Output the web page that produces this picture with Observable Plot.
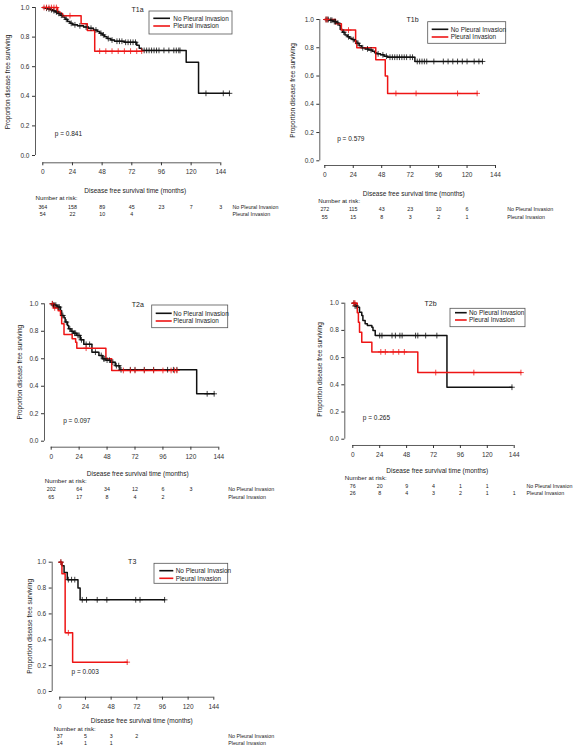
<!DOCTYPE html>
<html><head><meta charset="utf-8">
<script src="https://cdn.jsdelivr.net/npm/d3@7"></script>
<script src="https://cdn.jsdelivr.net/npm/@observablehq/plot@0.6"></script>
<style>
body{margin:0;background:#fff;}
#page{position:relative;width:573px;height:750px;overflow:hidden;background:#fff;}
.panel{position:absolute;}
.panel svg{overflow:visible;background:transparent;}
</style></head><body><div id="page"></div>
<script>
// ---------- shared labels / ticks ----------
const monthTicks = [0, 24, 48, 72, 96, 120, 144];
const survTicks = [0, 0.2, 0.4, 0.6, 0.8, 1.0];
const groups = ["No Pleural Invasion", "Pleural Invasion"];
const riskTimes = [0, 24, 48, 72, 96, 120, 144];
const xTitle = "Disease free survival time (months)";
const yTitle = "Proportion disease free surviving";
const riskTitle = "Number at risk:";

// ---------- T1a ----------
const t1aNoTime = [0,2,4,6,8,10,12,14,16,18,20,22,24,28,33,37,41,44,46,48,50,52,55,58,66,76,78,80,116,126,151];
const t1aNoSurv = [1,0.995,0.99,0.985,0.978,0.97,0.96,0.948,0.935,0.92,0.905,0.893,0.883,0.876,0.868,0.86,0.848,0.838,0.826,0.815,0.802,0.79,0.78,0.772,0.765,0.745,0.725,0.71,0.63,0.42,0.42];
const t1aNoCens = [3,5,7,9,11,13,15,19,23,26,30,35,39,43,47,49,53,56,60,62,64,67,69,71,73,75,82,84,86,88,90,92,94,98,102,106,108,110,111,132,146,151];
const t1aPiTime = [0,12,14,16,31,36,42,80];
const t1aPiSurv = [1,0.97,0.96,0.945,0.89,0.845,0.705,0.705];
const t1aPiCens = [1,3,5,7,9,11,22,46,51,56,61,66,71,76,80];
const t1aRiskNo = [364,158,89,45,23,7,3];
const t1aRiskPi = [54,22,10,4];
const t1aP = "p = 0.841";

// ---------- T1b ----------
const t1bNoTime = [0,4,7,10,12,13,15,17,19,21,23,25,27,29,31,34,37,40,42,44,47,50,53,76,133];
const t1bNoSurv = [1,0.995,0.985,0.975,0.96,0.93,0.91,0.89,0.878,0.868,0.858,0.847,0.832,0.815,0.8,0.792,0.785,0.775,0.765,0.757,0.75,0.74,0.733,0.703,0.703];
const t1bNoCens = [1,2,3,5,6,8,9,11,16,20,24,28,32,36,39,45,49,52,55,57,59,61,63,65,67,69,72,74,78,80,82,84,86,92,100,104,108,112,116,120,126,130,133];
const t1bPiTime = [0,9,14,26,27,43,51,53,128.5];
const t1bPiSurv = [1,0.97,0.925,0.83,0.8,0.715,0.6,0.477,0.477];
const t1bPiCens = [1,2,20,60,77,112,128.5];
const t1bRiskNo = [272,115,43,23,10,6];
const t1bRiskPi = [55,15,8,3,2,1];
const t1bP = "p = 0.579";

// ---------- T2a ----------
const t2aNoTime = [0,2,5,8,9,11,12,14,15,17,19,22,25,28,35,41,44,47,51,55,59,125,140];
const t2aNoSurv = [1,0.99,0.976,0.95,0.915,0.898,0.867,0.842,0.818,0.8,0.786,0.77,0.738,0.705,0.648,0.624,0.6,0.59,0.575,0.55,0.52,0.345,0.345];
const t2aNoCens = [1,2,3,4,6,7,10,13,16,18,20,21,23,24,26,30,33,38,43,45,46,48,50,53,56,58,60,68,72,80,88,100,105,108,134,140];
const t2aPiTime = [0,2,6,8,9,11,18,21,22,47,52,108];
const t2aPiSurv = [1,0.97,0.95,0.915,0.855,0.777,0.745,0.72,0.677,0.6,0.515,0.515];
const t2aPiCens = [1,3,30,62,68,72,80,88,96,103,106,108];
const t2aRiskNo = [202,64,34,12,6,3];
const t2aRiskPi = [65,17,8,4,2];
const t2aP = "p = 0.097";

// ---------- T2b ----------
const t2bNoTime = [0,2,4,6,8,9,11,13,17,18,20,84,142];
const t2bNoSurv = [1,0.98,0.97,0.934,0.91,0.873,0.848,0.836,0.824,0.8,0.762,0.382,0.382];
const t2bNoCens = [1,2,3,24,26,35,38,42,44,56,58,65,75,142];
const t2bPiTime = [0,4,5,6,8,17,58,150];
const t2bPiSurv = [1,0.93,0.86,0.787,0.713,0.642,0.49,0.49];
const t2bPiCens = [1,2,25,29,36,41,46,74,108,150];
const t2bRiskNo = [76,20,9,4,1,1];
const t2bRiskPi = [26,8,4,3,2,1,1];
const t2bP = "p = 0.265";

// ---------- T3 ----------
const t3NoTime = [0,2,4,7,17,19,98];
const t3NoSurv = [1,0.973,0.92,0.865,0.8,0.709,0.709];
const t3NoCens = [1,8,11,14,21,25,35,44,71,75,98];
const t3PiTime = [0,2,5,12,63];
const t3PiSurv = [1,0.91,0.454,0.227,0.227];
const t3PiCens = [1,8,63];
const t3RiskNo = [37,5,3,2];
const t3RiskPi = [14,1,1];
const t3P = "p = 0.003";

// ---------- panel layout (pixels on the page) ----------
const panels = [
  {name:"T1a", p:t1aP, no:[t1aNoTime,t1aNoSurv,t1aNoCens], pi:[t1aPiTime,t1aPiSurv,t1aPiCens], risk:[t1aRiskNo,t1aRiskPi],
   L:0,T:0,W:285,H:228, yAxisX:35,x0:42.3,x144:220.3,y1:7,y0:155,xAxisY:162.3,
   title:[137,9], leg:[149,11,232,34], legLine:[153.3,170], legText:173.3, legRows:[18.3,26],
   pPos:[54.3,133], yLab:[7,81.5], xLab:[134.7,190], nar:[35,198], rows:[207,214], labX:232},
  {name:"T1b", p:t1bP, no:[t1bNoTime,t1bNoSurv,t1bNoCens], pi:[t1bPiTime,t1bPiSurv,t1bPiCens], risk:[t1bRiskNo,t1bRiskPi],
   L:285,T:0,W:288,H:228, yAxisX:319.3,x0:324.3,x144:495,y1:19,y0:160.3,xAxisY:165,
   title:[412,19], leg:[427.7,21.7,505.7,43.3], legLine:[431.7,448.3], legText:450.7, legRows:[29.3,37],
   pPos:[336.7,138], yLab:[292,90], xLab:[413.3,193], nar:[317.7,201], rows:[209,217], labX:506.7},
  {name:"T2a", p:t2aP, no:[t2aNoTime,t2aNoSurv,t2aNoCens], pi:[t2aPiTime,t2aPiSurv,t2aPiCens], risk:[t2aRiskNo,t2aRiskPi],
   L:0,T:290,W:285,H:215, yAxisX:44,x0:50.7,x144:218.3,y1:303.3,y0:440.7,xAxisY:446.7,
   title:[137.3,304], leg:[151.7,305,227.7,327.7], legLine:[155.7,171.7], legText:173.3, legRows:[313.3,321],
   pPos:[62.7,420], yLab:[19.3,371.7], xLab:[137.2,473.3], nar:[44.3,481], rows:[488.7,496.3], labX:227.7},
  {name:"T2b", p:t2bP, no:[t2bNoTime,t2bNoSurv,t2bNoCens], pi:[t2bPiTime,t2bPiSurv,t2bPiCens], risk:[t2bRiskNo,t2bRiskPi],
   L:285,T:290,W:288,H:215, yAxisX:344.3,x0:352.3,x144:513.7,y1:302.7,y0:438.7,xAxisY:445,
   title:[430,303.3], leg:[450,308.3,525,326.7], legLine:[455,466.7], legText:469, legRows:[312.7,320],
   pPos:[362.3,417.3], yLab:[319.3,369], xLab:[436.8,470.3], nar:[344.3,477.3], rows:[485.3,492.7], labX:526},
  {name:"T3", p:t3P, no:[t3NoTime,t3NoSurv,t3NoCens], pi:[t3PiTime,t3PiSurv,t3PiCens], risk:[t3RiskNo,t3RiskPi],
   L:0,T:555,W:285,H:195, yAxisX:51.7,x0:59.3,x144:213.3,y1:561.7,y0:691,xAxisY:696.7,
   title:[131.7,561.7], leg:[154,563.3,227.7,583.3], legLine:[159.3,173.3], legText:175.7, legRows:[570.7,578.3],
   pPos:[71,671.7], yLab:[29.3,625.8], xLab:[141.3,720.7], nar:[53.3,728.3], rows:[736,742.7], labX:227.7}
];

const colors = ["#111111", "#ee1515"];
const axisCol = "#333333";
const FONT = "'Liberation Sans', Arial, Helvetica, sans-serif";

function survAt(times, surv, t) {
  let s = surv[0];
  for (let i = 0; i < times.length; i++) if (times[i] <= t) s = surv[i];
  return s;
}

function drawPanel(c) {
  const mL = c.yAxisX - c.L, inL = c.x0 - c.yAxisX, mR = c.L + c.W - c.x144;
  const mT = c.y1 - c.T, mB = c.T + c.H - c.xAxisY, inB = c.xAxisY - c.y0;
  const at = (ax, ay) => ({frameAnchor: "top-left", dx: ax - c.yAxisX, dy: ay - c.y1});

  const lines = [], cens = [];
  [c.no, c.pi].forEach(([T, S, C], gi) => {
    T.forEach((t, i) => lines.push({t, s: S[i], g: groups[gi]}));
    C.forEach(t => cens.push({t, s: survAt(T, S, t), g: groups[gi]}));
  });
  const riskRows = c.risk.map(arr => arr.map((n, i) => ({t: riskTimes[i], n: String(n)})));

  const txt = {fill: "#222", fontSize: 6.5, textAnchor: "middle", lineAnchor: "middle"};

  const chart = Plot.plot({
    width: c.W, height: c.H,
    marginLeft: mL, marginRight: mR, marginTop: mT, marginBottom: mB,
    x: {domain: [0, 144], insetLeft: inL, insetRight: 0},
    y: {domain: [0, 1], insetBottom: inB, insetTop: 0},
    color: {domain: groups, range: colors},
    style: {fontFamily: FONT, fontSize: "6.5px", color: axisCol, background: "transparent", overflow: "visible"},
    marks: [
      Plot.ruleX([0], {y1: 0, y2: 1, dx: -inL, stroke: axisCol, strokeWidth: 0.8}),
      Plot.ruleY([0], {x1: 0, x2: 144, dy: inB, stroke: axisCol, strokeWidth: 0.8}),
      Plot.axisY(survTicks, {anchor: "left", tickSize: 3, tickPadding: 3, tickFormat: d3.format(".1f"), label: null, fontSize: 6.5}),
      Plot.axisX(monthTicks, {anchor: "bottom", tickSize: 3, tickPadding: 4, label: null, fontSize: 6.5}),
      Plot.line(lines, {x: "t", y: "s", z: "g", stroke: "g", curve: "step-after", strokeWidth: 1.5}),
      Plot.dot(cens, {x: "t", y: "s", stroke: "g", symbol: "plus", r: 2, strokeWidth: 0.8}),
      Plot.text([c.name], {...at(...c.title), ...txt, fontSize: 7}),
      Plot.text([c.p], {...at(...c.pPos), ...txt, textAnchor: "start"}),
      Plot.text([yTitle], {...at(...c.yLab), ...txt, rotate: -90}),
      Plot.text([xTitle], {...at(...c.xLab), ...txt}),
      Plot.text([riskTitle], {...at(...c.nar), ...txt, fontSize: 6.2, textAnchor: "start"}),
      ...riskRows.map((rows, gi) => Plot.text(rows, {x: "t", text: "n", frameAnchor: "bottom", dy: c.rows[gi] - c.xAxisY, fill: "#222", fontSize: 5.3, textAnchor: "middle", lineAnchor: "middle"})),
      ...groups.map((gname, gi) => Plot.text([gname], {...at(c.labX, c.rows[gi]), ...txt, fontSize: 5.3, textAnchor: "start"}))
    ]
  });

  // in-plot legend box
  const svg = d3.select(chart);
  const g = svg.append("g").attr("font-family", FONT).attr("font-size", 6.4).attr("text-anchor", "start");
  const [bx1, by1, bx2, by2] = c.leg;
  g.append("rect").attr("x", bx1 - c.L).attr("y", by1 - c.T).attr("width", bx2 - bx1).attr("height", by2 - by1)
    .attr("fill", "white").attr("stroke", "#555").attr("stroke-width", 0.8);
  groups.forEach((gname, gi) => {
    const yy = c.legRows[gi] - c.T;
    g.append("line").attr("x1", c.legLine[0] - c.L).attr("x2", c.legLine[1] - c.L).attr("y1", yy).attr("y2", yy)
      .attr("stroke", colors[gi]).attr("stroke-width", 1.6);
    g.append("text").attr("x", c.legText - c.L).attr("y", yy).attr("dy", "0.35em")
      .attr("text-anchor", "start").attr("fill", "#222").text(gname);
  });

  const div = document.createElement("div");
  div.className = "panel";
  div.style.left = c.L + "px";
  div.style.top = c.T + "px";
  div.appendChild(chart);
  document.getElementById("page").appendChild(div);
}

panels.forEach(drawPanel);
</script>
</body></html>
